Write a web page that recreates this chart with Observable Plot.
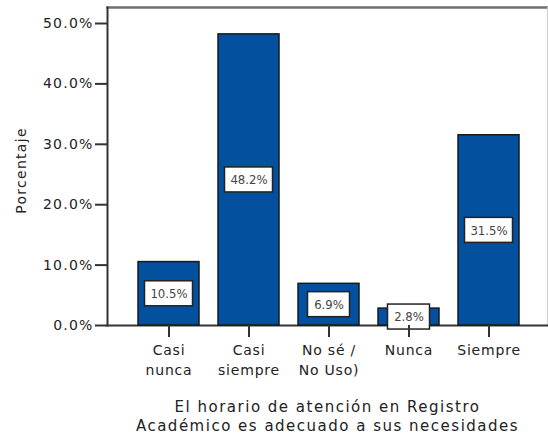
<!DOCTYPE html>
<html><head><meta charset="utf-8">
<script src="https://cdn.jsdelivr.net/npm/d3@7"></script>
<script src="https://cdn.jsdelivr.net/npm/@observablehq/plot@0.6"></script>
<style>
body{margin:0;background:#fff} svg{display:block}
g[aria-label="y-axis tick label"] text{letter-spacing:1.2px}
g[aria-label="x-axis tick label"] text{letter-spacing:0.8px}
</style>
</head><body><div id="chart"></div>
<script>
const categories = ["Casi nunca", "Casi siempre", "No sé / No Uso)", "Nunca", "Siempre"];
const tickLabels = ["Casi\nnunca", "Casi\nsiempre", "No sé /\nNo Uso)", "Nunca", "Siempre"];
const percentages = [10.5, 48.2, 6.9, 2.8, 31.5];
const valueLabels = ["10.5%", "48.2%", "6.9%", "2.8%", "31.5%"];
const yTicks = [0, 10, 20, 30, 40, 50];
const xTitle = ["El horario de atención en Registro", "Académico es adecuado a sus necesidades"];
const yTitle = "Porcentaje";

const data = categories.map((c, i) => ({cat: c, value: percentages[i], mid: percentages[i] / 2, label: valueLabels[i]}));
const labelMap = new Map(categories.map((c, i) => [c, tickLabels[i]]));
const wide = data.filter(d => d.label.length > 4);
const narrow = data.filter(d => d.label.length <= 4);

const boxStyle = {x: "cat", y1: "mid", y2: "mid", fill: "white", stroke: "#222", strokeWidth: 1.5, insetTop: -12.5, insetBottom: -12.5};
const spaced = (px) => function (index, scales, values, dims, ctx, next) {
  const g = next(index, scales, values, dims, ctx);
  g.setAttribute("letter-spacing", px);
  return g;
};

const plot = Plot.plot({
  width: 548, height: 440,
  marginLeft: 107, marginRight: 1, marginTop: 7, marginBottom: 115,
  style: {fontFamily: "DejaVu Sans", fontSize: "14px", color: "#222", background: "#fff"},
  x: {domain: categories, paddingInner: 0.2375, paddingOuter: 0.36875, align: 0.53},
  y: {domain: [0, 52.65]},
  marks: [
    Plot.frame({anchor: "top", stroke: "#6f6f6f", strokeWidth: 2.5}),
    Plot.frame({anchor: "right", stroke: "#cfcfcf", strokeWidth: 1}),
    Plot.frame({anchor: "left", stroke: "#333", strokeWidth: 2}),
    Plot.frame({anchor: "bottom", stroke: "#333", strokeWidth: 2}),
    Plot.barY(data, {x: "cat", y: "value", fill: "#03509f", stroke: "#1a1a1a", strokeWidth: 1.5}),
    Plot.barY(wide, {...boxStyle, insetLeft: 6.5, insetRight: 6.5}),
    Plot.barY(narrow, {...boxStyle, insetLeft: 9.5, insetRight: 9.5}),
    Plot.text(data, {x: "cat", y: "mid", text: "label", fontSize: 13, fill: "#444", fontFamily: "DejaVu Sans Condensed, DejaVu Sans"}),
    Plot.axisY({ticks: yTicks, tickFormat: d => d.toFixed(1) + "%", tickSize: 12, tickPadding: 2, strokeWidth: 2, stroke: "#333", label: null}),
    Plot.axisX({tickSize: 12, tickPadding: 4, strokeWidth: 2, stroke: "#333", tickFormat: d => labelMap.get(d), lineHeight: 1.4, label: null}),
    Plot.text([yTitle], {text: d => d, frameAnchor: "left", textAnchor: "middle", rotate: -90, dx: -86, dy: 4, render: spaced("1.3px")}),
    Plot.text([xTitle.join("\n")], {text: d => d, frameAnchor: "bottom", lineAnchor: "top", dy: 73, fontSize: 15, lineHeight: 1.27, render: spaced("1.5px")})
  ]
});
document.getElementById("chart").appendChild(plot);
</script>
</body></html>
